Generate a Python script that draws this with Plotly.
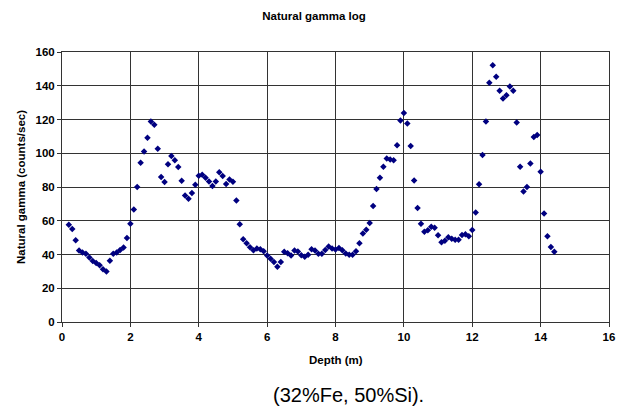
import plotly.graph_objects as go

depth = [0.2, 0.3, 0.4, 0.5, 0.6, 0.7, 0.8, 0.9, 1.0, 1.1,
         1.2, 1.3, 1.4, 1.5, 1.6, 1.7, 1.8, 1.9, 2.0, 2.1,
         2.2, 2.3, 2.4, 2.5, 2.6, 2.7, 2.8, 2.9, 3.0, 3.1,
         3.2, 3.3, 3.4, 3.5, 3.6, 3.7, 3.8, 3.9, 4.0, 4.1,
         4.2, 4.3, 4.4, 4.5, 4.6, 4.7, 4.8, 4.9, 5.0, 5.1,
         5.2, 5.3, 5.4, 5.5, 5.6, 5.7, 5.8, 5.9, 6.0, 6.1,
         6.2, 6.3, 6.4, 6.5, 6.6, 6.7, 6.8, 6.9, 7.0, 7.1,
         7.2, 7.3, 7.4, 7.5, 7.6, 7.7, 7.8, 7.9, 8.0, 8.1,
         8.2, 8.3, 8.4, 8.5, 8.6, 8.7, 8.8, 8.9, 9.0, 9.1,
         9.2, 9.3, 9.4, 9.5, 9.6, 9.7, 9.8, 9.9, 10.0, 10.1,
         10.2, 10.3, 10.4, 10.5, 10.6, 10.7, 10.8, 10.9, 11.0, 11.1,
         11.2, 11.3, 11.4, 11.5, 11.6, 11.7, 11.8, 11.9, 12.0, 12.1,
         12.2, 12.3, 12.4, 12.5, 12.6, 12.7, 12.8, 12.9, 13.0, 13.1,
         13.2, 13.3, 13.4, 13.5, 13.6, 13.7, 13.8, 13.9, 14.0, 14.1,
         14.2, 14.3, 14.4]

gamma = [57.6, 55.1, 48.4, 42.4, 41.2, 40.4, 38.2, 36.1, 34.9, 33.7,
         31.2, 30.0, 36.3, 40.4, 41.2, 42.7, 44.1, 49.8, 58.2, 66.7,
         80.0, 94.3, 101.0, 109.2, 118.8, 116.9, 102.7, 85.9, 82.9, 93.5,
         98.4, 95.9, 91.8, 83.7, 74.9, 73.1, 76.5, 81.4, 86.7, 87.3,
         85.5, 83.3, 80.6, 83.3, 88.8, 86.5, 81.8, 84.5, 83.1, 72.0,
         58.0, 49.0, 46.7, 44.3, 42.5, 43.5, 43.1, 42.0, 39.4, 37.5,
         35.5, 32.7, 35.5, 41.6, 40.8, 39.4, 42.4, 41.8, 39.6, 38.6,
         39.8, 43.1, 42.4, 40.4, 40.4, 42.7, 44.7, 43.5, 42.9, 43.9,
         42.5, 40.6, 39.8, 39.8, 42.0, 46.7, 52.4, 54.7, 58.6, 68.8,
         78.8, 85.5, 92.0, 96.9, 96.3, 95.9, 104.7, 119.4, 123.9, 117.6,
         104.3, 83.9, 67.5, 58.2, 53.5, 54.3, 56.5, 55.9, 51.4, 47.3,
         48.2, 50.2, 49.4, 48.8, 48.8, 51.6, 52.0, 50.8, 54.5, 64.9,
         81.6, 99.0, 118.8, 141.8, 152.2, 145.3, 137.1, 132.5, 134.3, 139.6,
         137.1, 118.2, 92.0, 77.3, 80.0, 93.9, 109.6, 110.8, 89.0, 64.3,
         50.8, 44.5, 41.6]

title_text = "Natural gamma log"
x_title = "Depth (m)"
y_title = "Natural gamma (counts/sec)"
caption = "(32%Fe, 50%Si)."

FONT = "Liberation Sans, Arial, sans-serif"
FS = 11.5

W, H = 626, 406
L, R, T, B = 62, 17, 52, 84
plot_w = W - L - R
plot_h = H - T - B

fig = go.Figure()
fig.add_trace(go.Scatter(
    x=depth, y=gamma, mode="markers",
    marker=dict(symbol="diamond", size=5, color="#000080", line=dict(width=0)),
    showlegend=False,
))

fig.update_layout(
    width=W, height=H,
    margin=dict(l=L, r=R, t=T, b=B, autoexpand=False),
    paper_bgcolor="white", plot_bgcolor="white",
    font=dict(family=FONT, color="black"),
    title=dict(text="<b>" + title_text + "</b>", x=314 / W, xanchor="center",
               y=1 - 16 / H, yanchor="middle", font=dict(size=FS)),
    annotations=[
        dict(text=caption, xref="paper", yref="paper",
             x=(348 - L) / plot_w, y=-(394.5 - (H - B)) / plot_h,
             xanchor="center", yanchor="middle", showarrow=False,
             font=dict(size=20, family=FONT)),
        dict(text="<b>" + x_title + "</b>", xref="paper", yref="paper",
             x=(336 - L) / plot_w, y=-(360 - (H - B)) / plot_h,
             xanchor="center", yanchor="middle", showarrow=False,
             font=dict(size=FS, family=FONT)),
        dict(text="<b>" + y_title + "</b>", xref="paper", yref="paper",
             x=-(L - 21) / plot_w, y=(H - B - 187) / plot_h,
             xanchor="center", yanchor="middle", showarrow=False, textangle=-90,
             font=dict(size=FS, family=FONT)),
    ],
)

fig.update_xaxes(
    range=[0, 16], dtick=2, tick0=0,
    showgrid=True, gridcolor="#333333", gridwidth=1,
    showline=True, linecolor="#333333", linewidth=1, mirror=True,
    ticks="outside", ticklen=4, tickcolor="#333333",
    tickfont=dict(size=FS), tickprefix="<b>", ticksuffix="</b>",
    zeroline=False,
)
fig.update_yaxes(
    range=[0, 160], dtick=20, tick0=0,
    showgrid=True, gridcolor="#333333", gridwidth=1,
    showline=True, linecolor="#333333", linewidth=1, mirror=True,
    ticks="outside", ticklen=4, tickcolor="#333333",
    tickfont=dict(size=FS), tickprefix="<b>", ticksuffix="</b>",
    zeroline=False,
)

fig.write_html("out.html",
               config={"displayModeBar": False},
               post_script="document.body.style.margin='0';document.body.style.overflow='hidden';")
